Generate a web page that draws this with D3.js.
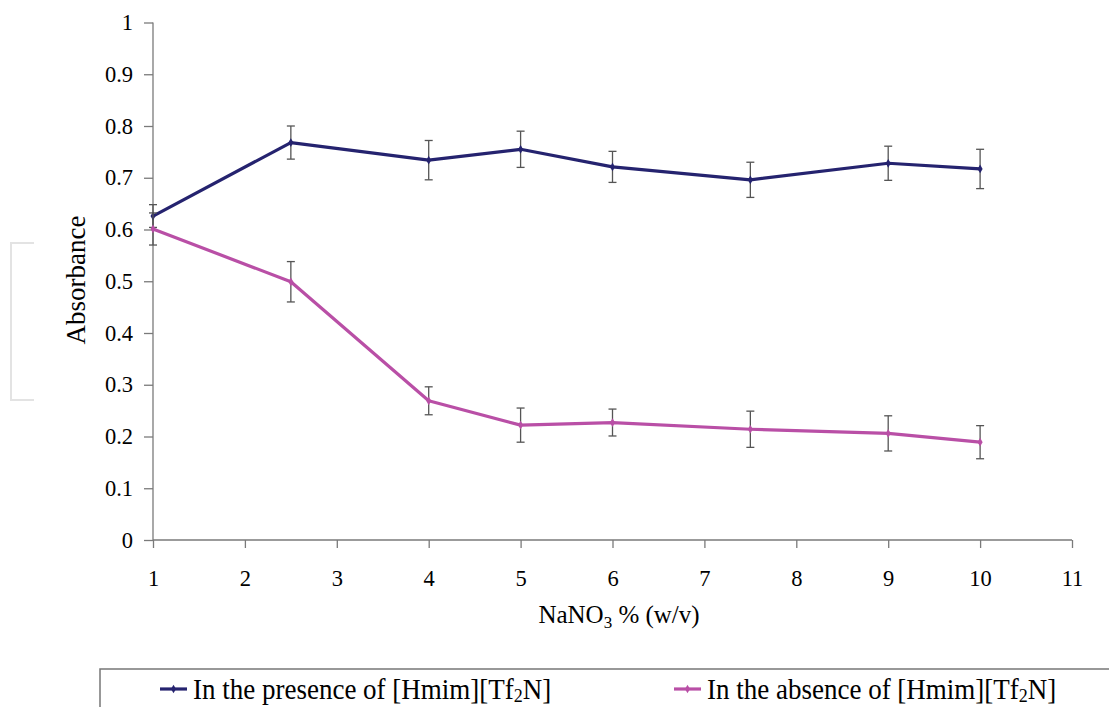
<!DOCTYPE html>
<html><head><meta charset="utf-8">
<script src="https://cdn.jsdelivr.net/npm/d3@7"></script>
<style>body{margin:0;background:#fff}svg{display:block}</style>
</head><body><svg id="c" width="1109" height="707"></svg>
<script>
const xValues = [1, 2.5, 4, 5, 6, 7.5, 9, 10];
const presence = [0.626, 0.768, 0.734, 0.755, 0.721, 0.696, 0.728, 0.717];
const presenceErr = [0.022, 0.032, 0.038, 0.035, 0.030, 0.034, 0.033, 0.038];
const absence = [0.601, 0.499, 0.269, 0.222, 0.227, 0.214, 0.206, 0.189];
const absenceErr = [0.031, 0.039, 0.027, 0.033, 0.026, 0.035, 0.034, 0.032];
const xTicks = [1,2,3,4,5,6,7,8,9,10,11];
const yTicks = [0,0.1,0.2,0.3,0.4,0.5,0.6,0.7,0.8,0.9,1];
const seriesNames = ["In the presence of [Hmim][Tf", "In the absence of [Hmim][Tf"];
const colors = ["#25236f", "#b94fa6"];

const FONT = "'Liberation Serif', 'Times New Roman', serif";
const svg = d3.select("#c").style("font-family", FONT);
const x = d3.scaleLinear().domain([1, 11]).range([153, 1072]);
const y = d3.scaleLinear().domain([0, 1]).range([540, 22.5]);
const axisColor = "#7a7a7a";

// faint bracket artifact at left
svg.append("path").attr("d","M34,243 H11 V400 H34").attr("fill","none").attr("stroke","#e3e3e3").attr("stroke-width",2);

const yAxis = svg.append("g").attr("transform","translate(153,0)")
  .call(d3.axisLeft(y).tickValues(yTicks).tickSize(9).tickPadding(6).tickFormat(d3.format("~g")));
const xAxis = svg.append("g").attr("transform","translate(0,540)")
  .call(d3.axisBottom(x).tickValues(xTicks).tickSize(8).tickPadding(22).tickFormat(d3.format("d")));
[yAxis, xAxis].forEach(a => {
  a.attr("font-family", null).attr("font-size", null);
  a.select(".domain").attr("stroke", axisColor).attr("stroke-width",1.3);
  a.selectAll(".tick line").attr("stroke", axisColor).attr("stroke-width",1.3);
  a.selectAll(".tick text").style("font-size", "22.5px").style("font-family", FONT).attr("fill","#000");
});
yAxis.select(".domain").attr("d","M0,22.5V540");
xAxis.select(".domain").attr("d","M153,0H1072");
yAxis.selectAll(".tick text").attr("x", -20);

// axis titles
svg.append("text").attr("transform","translate(85,280) rotate(-90)").attr("text-anchor","middle")
  .style("font-size","27px").text("Absorbance");
const xt = svg.append("text").attr("x",619).attr("y",623).attr("text-anchor","middle").style("font-size","25px");
xt.append("tspan").text("NaNO");
xt.append("tspan").style("font-size","17px").attr("dy",5).text("3");
xt.append("tspan").attr("dy",-5).text(" % (w/v)");

const series = [
  {vals: presence, err: presenceErr, color: colors[0]},
  {vals: absence, err: absenceErr, color: colors[1]}
];
const line = d3.line().x(d => x(d[0])).y(d => y(d[1]));

series.forEach(s => {
  const pts = xValues.map((v,i) => [v, s.vals[i], s.err[i]]);
  const g = svg.append("g");
  g.selectAll("g.err").data(pts).join("g").attr("class","err").each(function(d){
    const e = d3.select(this);
    const cx = x(d[0]), y1 = y(d[1]+d[2]), y2 = y(d[1]-d[2]);
    e.append("line").attr("x1",cx).attr("x2",cx).attr("y1",y1).attr("y2",y2).attr("stroke","#555").attr("stroke-width",1.3);
    e.append("line").attr("x1",cx-4).attr("x2",cx+4).attr("y1",y1).attr("y2",y1).attr("stroke","#555").attr("stroke-width",1.3);
    e.append("line").attr("x1",cx-4).attr("x2",cx+4).attr("y1",y2).attr("y2",y2).attr("stroke","#555").attr("stroke-width",1.3);
  });
  g.append("path").datum(pts).attr("d", line).attr("fill","none").attr("stroke",s.color).attr("stroke-width",3.2).attr("stroke-linejoin","round");
  g.selectAll("path.m").data(pts).join("path").attr("class","m")
    .attr("d", d3.symbol(d3.symbolDiamond, 22)).attr("transform", d => `translate(${x(d[0])},${y(d[1])})`).attr("fill",s.color);
});

// legend
svg.append("path").attr("d","M100,707 V669 H1109").attr("fill","none").attr("stroke","#777").attr("stroke-width",1.5);
const legX = [160, 674];
seriesNames.forEach((name,i) => {
  const lg = svg.append("g");
  lg.append("line").attr("x1",legX[i]).attr("x2",legX[i]+27).attr("y1",689).attr("y2",689).attr("stroke",colors[i]).attr("stroke-width",3.2);
  lg.append("path").attr("d", d3.symbol(d3.symbolDiamond, 22)).attr("transform",`translate(${legX[i]+13.5},689)`).attr("fill",colors[i]);
  const t = lg.append("text").attr("transform",`translate(${legX[i]+33},699) scale(1,1.1)`).style("font-size","27px");
  t.append("tspan").text(name);
  t.append("tspan").style("font-size","18px").attr("dy",3).text("2");
  t.append("tspan").attr("dy",-3).text("N]");
});
</script></body></html>
